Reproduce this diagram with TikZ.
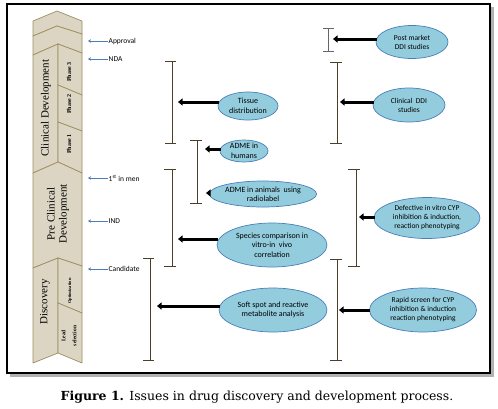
\documentclass[tikz,border=0pt]{standalone}
\usepackage{fontspec}
\setmainfont{Liberation Serif}
\newfontfamily\calibri{Carlito}
\newfontfamily\capfont{DejaVu Serif}
\usetikzlibrary{arrows.meta,positioning,calc,shapes.geometric}
\definecolor{stone}{HTML}{DCD5C3}
\definecolor{olive}{HTML}{9C8F5E}
\definecolor{umber}{HTML}{4B3F2A}
\definecolor{steel}{HTML}{4A7EBB}
\definecolor{aqua}{HTML}{93CDDD}
\tikzset{seg/.style={draw=olive,fill=stone,line width=0.7pt,line join=round}, stage/.style={font=\fontsize{11}{12}\selectfont,rotate=90,align=center,inner sep=0pt}, phase/.style={font=\fontsize{6}{7}\selectfont\bfseries,rotate=90,align=center,inner sep=0pt}, milestone/.style={font=\calibri\fontsize{7.5}{8}\selectfont,anchor=west,inner sep=0.5pt}, gate/.style={-{Stealth[length=3pt,width=3.5pt]},draw=steel,line width=0.6pt}, issue/.style={ellipse,draw=steel,fill=aqua,line width=0.7pt,inner sep=0pt,align=center,font=\calibri\fontsize{8}{9.5}\selectfont}, brk/.style={draw=umber,line width=0.8pt}, fat/.style={-{Triangle[length=4.5pt,width=7pt]},line width=3pt,shorten <=-1pt}}

\begin{document}
\begin{tikzpicture}[x=1pt,y=-1pt]
\useasboundingbox (0,0) rectangle (498,408);
\fill[black!30] (10,7) rectangle (494,377);
\draw[fill=white,line width=1.2pt] (7,4) rectangle (490,373);
\path[seg] (33,21)--(57,11)--(82,21)--(82,34)--(57,26)--(33,36)--cycle;
\path[seg] (33,36)--(57,26)--(82,34)--(82,53)--(58,44)--(33,55)--cycle;
\path[seg] (33,55)--(58,44)--(58,162)--(33,173)--cycle;
\path[seg] (58,44)--(82,53)--(82,95)--(58,85)--cycle;
\path[seg] (58,85)--(82,95)--(82,131)--(58,122)--cycle;
\path[seg] (58,122)--(82,131)--(82,173)--(58,162)--cycle;
\path[seg] (33,173)--(58,162)--(82,173)--(82,266)--(58,258)--(33,268)--cycle;
\path[seg] (33,268)--(58,258)--(58,353)--(33,363)--cycle;
\path[seg] (58,258)--(82,266)--(82,313)--(58,303)--cycle;
\path[seg] (58,303)--(82,313)--(82,363)--(58,353)--cycle;
\node[stage] (clin) at (46,108) {Clinical Development};
\node[phase] (ph3) at (69,72) {Phase 3};
\node[phase] (ph2) at (69,104) {Phase 2};
\node[phase] (ph1) at (69,144) {Phase 1};
\node[stage] (pre) at (58,214) {Pre Clinical\\Development};
\node[stage] (disc) at (45,302) {Discovery};
\node[phase,font=\fontsize{4.5}{5}\selectfont\bfseries] (opt) at (70,291) {Optimization};
\node[phase,font=\fontsize{5.5}{11}\selectfont\bfseries] (lead) at (69,336) {Lead\\selection};
\coordinate (colR) at (88,0);
\node[milestone] (appr) at (108,41) {Approval};
\node[milestone] (nda) at (108,59) {NDA};
\node[milestone] (fim) at (108,178) {1\textsuperscript{st} in men};
\node[milestone] (ind) at (108,221) {IND};
\node[milestone] (cand) at (108,269) {Candidate};
\draw[gate] (appr.west)--(appr.west -| colR);\draw[gate] (nda.west)--(nda.west -| colR);\draw[gate] (fim.west)--(fim.west -| colR);
\draw[gate] (ind.west)--(ind.west -| colR);\draw[gate] (cand.west)--(cand.west -| colR);
\draw[brk] (165,61)--(176,61) (172,61)--(172,143) (165,143)--(176,143);
\draw[brk] (190,140)--(202,140) (197,140)--(197,203) (190,203)--(202,203);
\draw[brk] (164,169)--(176,169) (172,169)--(172,266) (164,266)--(176,266);
\draw[brk] (143,258)--(154,258) (150,258)--(150,360) (143,360)--(154,360);
\draw[brk,draw=black!60] (323,28)--(334,28) (328,28)--(328,51) (323,51)--(334,51);
\draw[brk] (330,62)--(342,62) (337,62)--(337,143) (330,143)--(342,143);
\draw[brk] (348,169)--(360,169) (356,169)--(356,266) (348,266)--(360,266);
\draw[brk] (330,259)--(342,259) (337,259)--(337,360) (330,360)--(342,360);
\node[issue,minimum width=60,minimum height=28] (tissue) at (248,106) {Tissue\\distribution};
\node[issue,minimum width=48,minimum height=22] (humans) at (244,151) {ADME in\\humans};
\node[issue,minimum width=90,minimum height=26] (animals) at (263,194) {ADME in animals\ \ using\\radiolabel};
\node[issue,minimum width=110,minimum height=44] (species) at (272,245) {Species comparison in\\vitro-in\ \ vivo\\correlation};
\node[issue,minimum width=108,minimum height=44] (soft) at (273,310) {Soft spot and reactive\\metabolite analysis};
\node[issue,minimum width=72,minimum height=33,font=\calibri\fontsize{7.5}{9}\selectfont] (post) at (412,42) {Post market\\DDI studies};
\node[issue,minimum width=72,minimum height=34,font=\calibri\fontsize{7.5}{9}\selectfont] (cddi) at (409,105) {Clinical\ \ DDI\\studies};
\node[issue,minimum width=106,minimum height=41,font=\calibri\fontsize{7.5}{9}\selectfont] (defect) at (427,218) {Defective in vitro CYP\\inhibition \& induction,\\reaction phenotyping};
\node[issue,minimum width=107,minimum height=44,font=\calibri\fontsize{7.5}{9}\selectfont] (rapid) at (423,310) {Rapid screen for CYP\\inhibition \& induction\\reaction phenotyping};
\coordinate (tissueTip) at (178,102); \coordinate (humansTip) at (205,149); \coordinate (animalsTip) at (206,193);
\coordinate (speciesTip) at (178,239); \coordinate (softTip) at (157,306); \coordinate (postTip) at (333,39);
\coordinate (cddiTip) at (340,102); \coordinate (defectTip) at (359,217); \coordinate (rapidTip) at (339,310);
\draw[fat] (tissue.west |- tissueTip)--(tissueTip);\draw[fat] (humans.west |- humansTip)--(humansTip);\draw[fat] (animals.west |- animalsTip)--(animalsTip);
\draw[fat] (species.west |- speciesTip)--(speciesTip);\draw[fat] (soft.west |- softTip)--(softTip);\draw[fat] (post.west |- postTip)--(postTip);
\draw[fat] (cddi.west |- cddiTip)--(cddiTip);\draw[fat] (defect.west |- defectTip)--(defectTip);\draw[fat] (rapid.west |- rapidTip)--(rapidTip);
\node[font=\capfont\fontsize{12.5}{14}\selectfont] (cap) at (257,397) {\textbf{Figure 1.} Issues in drug discovery and development process.};
\end{tikzpicture}
\end{document}
